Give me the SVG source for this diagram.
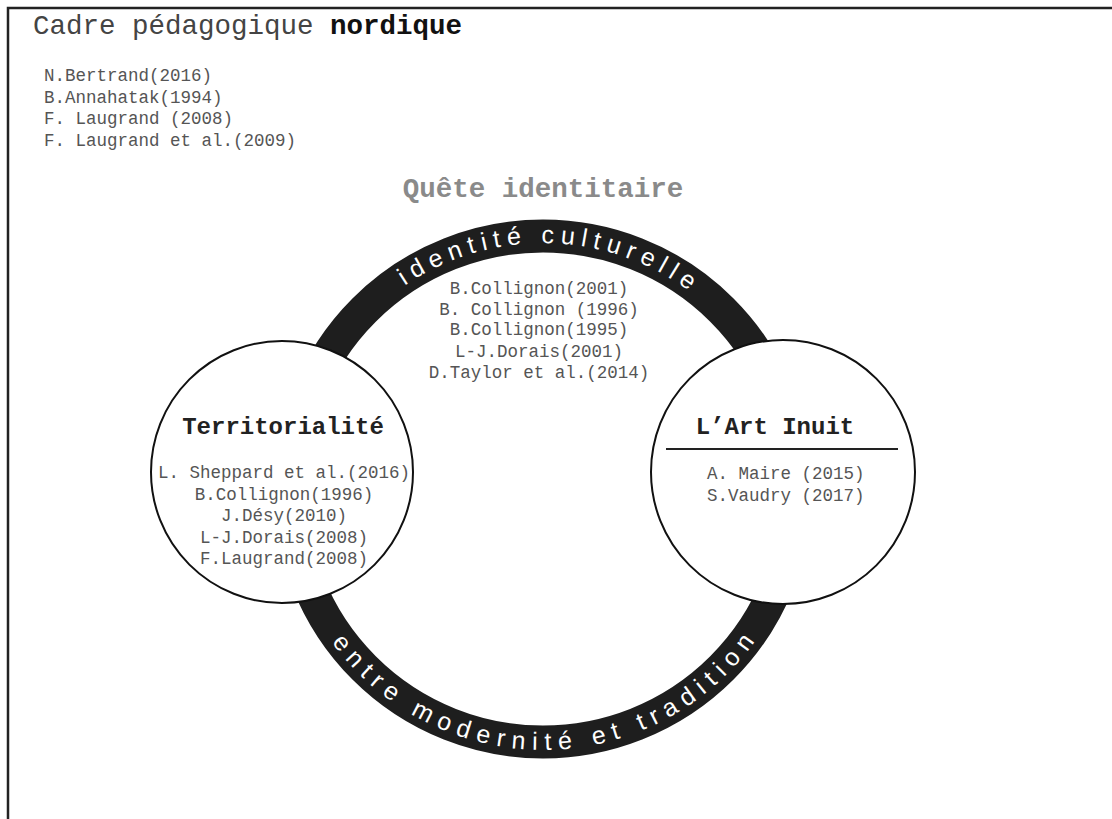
<svg xmlns="http://www.w3.org/2000/svg" width="1112" height="819" viewBox="0 0 1112 819">
<style>
.mono{font-family:"Liberation Mono","Courier New",monospace}
.ref{font-family:"Liberation Mono","Courier New",monospace;font-size:17.5px;fill:#555}
.head{font-family:"Liberation Mono","Courier New",monospace;font-size:24px;font-weight:bold;fill:#222}
.ring{font-family:"Liberation Sans",Arial,sans-serif;font-size:25px;fill:#fff}
.node{fill:#fff;stroke:#111;stroke-width:2}
</style>
<defs>
<path id="topArc" d="M297,489 A246,246 0 0 1 789,489"/>
<path id="botArc" d="M282,489 A261,261 0 0 0 804,489"/>
</defs>
<rect width="1112" height="819" fill="#fff"/>
<path d="M8,819 V8 H1112" fill="none" stroke="#222" stroke-width="2.5"/>
<g id="title">
<text class="mono" x="33" y="34" font-size="27.5" fill="#444">Cadre pédagogique <tspan font-weight="bold" fill="#111">nordique</tspan></text>
<text class="ref" x="44" y="81">N.Bertrand(2016)</text>
<text class="ref" x="44" y="102.5">B.Annahatak(1994)</text>
<text class="ref" x="44" y="124">F. Laugrand (2008)</text>
<text class="ref" x="44" y="145.5">F. Laugrand et al.(2009)</text>
</g>
<g id="quete">
<text class="mono" x="543" y="197" font-size="27.5" font-weight="bold" fill="#8a8a8a" text-anchor="middle">Quête identitaire</text>
</g>
<g id="connectors">
<circle cx="543" cy="489" r="253" fill="none" stroke="#1e1e1e" stroke-width="33"/>
<text class="ring" letter-spacing="6.4"><textPath href="#topArc" startOffset="51%" text-anchor="middle">identité culturelle</textPath></text>
<text class="ring" letter-spacing="7.2"><textPath href="#botArc" startOffset="50.5%" text-anchor="middle">entre modernité et tradition</textPath></text>
</g>
<g id="center-refs" text-anchor="middle">
<text class="ref" x="539" y="294">B.Collignon(2001)</text>
<text class="ref" x="539" y="314.5">B. Collignon (1996)</text>
<text class="ref" x="539" y="335">B.Collignon(1995)</text>
<text class="ref" x="539" y="356.5">L-J.Dorais(2001)</text>
<text class="ref" x="539" y="377.5">D.Taylor et al.(2014)</text>
</g>
<g id="territorialite">
<circle class="node" cx="282" cy="472" r="131"/>
<text class="head" x="283" y="434" text-anchor="middle">Territorialité</text>
<g text-anchor="middle">
<text class="ref" x="284" y="478">L. Sheppard et al.(2016)</text>
<text class="ref" x="284" y="499.5">B.Collignon(1996)</text>
<text class="ref" x="284" y="521">J.Désy(2010)</text>
<text class="ref" x="284" y="542.5">L-J.Dorais(2008)</text>
<text class="ref" x="284" y="564">F.Laugrand(2008)</text>
</g>
</g>
<g id="art-inuit">
<circle class="node" cx="783" cy="472" r="132"/>
<text class="head" x="775" y="434" text-anchor="middle">L’Art Inuit</text>
<line x1="666" y1="449" x2="898" y2="449" stroke="#222" stroke-width="2"/>
<text class="ref" x="707" y="479">A. Maire (2015)</text>
<text class="ref" x="707" y="500.5">S.Vaudry (2017)</text>
</g>
</svg>
